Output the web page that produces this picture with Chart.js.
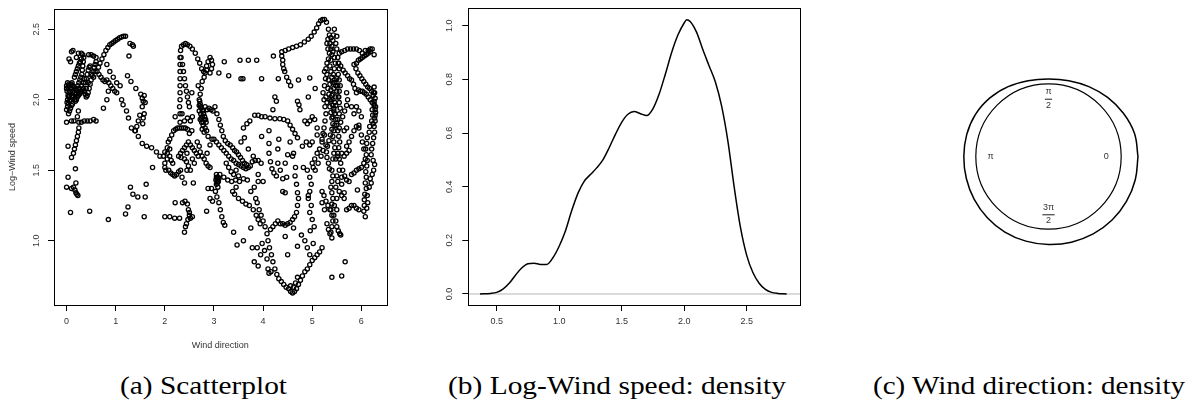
<!DOCTYPE html>
<html>
<head>
<meta charset="utf-8">
<script src="https://cdn.jsdelivr.net/npm/chart.js@4.4.1/dist/chart.umd.min.js"></script>
<style>
  html, body { margin: 0; padding: 0; background: #fff; width: 1191px; height: 402px; overflow: hidden; }
  canvas { position: absolute; }
  .cap { position: absolute; top: 373px; font-family: "Liberation Serif", "DejaVu Serif", serif; font-size: 26px; line-height: 26px; white-space: nowrap; transform-origin: 0 0; color: #000; }
</style>
</head>
<body>
<canvas id="scatter" width="400" height="360" style="left:0px;top:0px"></canvas>
<canvas id="dens" width="420" height="360" style="left:400px;top:0px"></canvas>
<canvas id="circ" width="189" height="189" style="left:954px;top:62px"></canvas>
<div class="cap" data-left="120" data-width="167">(a) Scatterplot</div>
<div class="cap" data-left="448" data-width="338">(b) Log-Wind speed: density</div>
<div class="cap" data-left="873" data-width="312">(c) Wind direction: density</div>
<script>
// (a) wind direction (radians) vs log wind speed
const windObs = [
  [0.00,2.08],[0.00,2.10],[0.01,2.06],[0.02,2.12],[0.03,2.09],[0.05,2.11],[0.07,2.10],[0.09,2.11],[0.11,2.12],[0.13,2.10],
  [0.15,2.09],[0.17,2.08],[0.19,2.07],[0.21,2.08],[0.23,2.10],[0.25,2.12],[0.27,2.14],[0.29,2.16],[0.31,2.18],[0.32,2.21],
  [0.33,2.24],[0.34,2.27],[0.35,2.30],[0.33,2.32],[0.30,2.29],
  [0.00,1.93],[0.02,1.95],[0.04,1.97],[0.06,1.99],[0.08,2.00],[0.10,2.02],[0.12,2.03],[0.14,2.02],[0.16,2.00],[0.18,1.99],
  [0.20,2.00],[0.22,2.02],[0.24,2.03],[0.26,2.04],[0.28,2.05],[0.30,2.06],[0.32,2.07],[0.34,2.08],[0.36,2.06],[0.38,2.04],
  [0.40,2.02],[0.42,2.03],[0.44,2.05],[0.46,2.08],[0.48,2.11],[0.50,2.14],[0.52,2.17],[0.54,2.20],[0.56,2.23],[0.58,2.25],[0.60,2.27],
  [0.03,2.03],[0.05,2.05],[0.07,2.06],[0.09,2.08],[0.04,1.90],[0.06,1.92],[0.08,1.94],[0.10,1.96],[0.12,1.97],
  [0.02,2.00],[0.04,2.02],[0.06,2.03],[0.01,1.98],[0.12,2.06],[0.16,2.05],[0.20,2.04],[0.26,2.08],[0.30,2.10],[0.34,2.12],
  [0.36,2.15],[0.40,2.08],[0.44,2.12],[0.50,2.18],[0.55,2.16],[0.58,2.20],
  [0.20,2.20],[0.22,2.22],[0.24,2.24],[0.26,2.26],[0.28,2.27],[0.18,2.18],[0.16,2.16],
  [0.05,2.29],[0.08,2.27],[0.10,2.34],[0.13,2.35],[0.20,2.30],[0.24,2.33],[0.30,2.33],[0.45,2.32],[0.50,2.32],[0.55,2.31],[0.60,2.30],
  [0.38,2.12],[0.40,2.15],[0.42,2.18],[0.44,2.21],[0.46,2.23],[0.48,2.24],
  [0.60,1.85],[0.55,1.86],[0.48,1.85],[0.42,1.85],[0.36,1.85],[0.30,1.84],[0.25,1.84],[0.15,1.85],[0.10,1.85],[0.00,1.84],
  [0.25,1.80],[0.24,1.77],[0.22,1.74],[0.20,1.71],[0.18,1.68],[0.16,1.65],[0.14,1.62],[0.10,1.59],[0.22,1.88],[0.24,1.92],
  [0.03,1.67],[0.03,1.45],[0.00,1.38],[0.10,1.37],[0.14,1.38],[0.17,1.36],[0.19,1.34],[0.21,1.33],[0.23,1.32],[0.19,1.41],
  [0.18,1.51],[0.08,1.20],[0.47,1.21],[0.85,1.15],
  [0.62,2.20],[0.65,2.23],[0.68,2.26],[0.72,2.29],[0.76,2.32],[0.80,2.35],[0.84,2.37],[0.88,2.39],[0.92,2.40],[0.96,2.41],
  [1.00,2.42],[1.04,2.43],[1.08,2.44],[1.12,2.445],[1.16,2.45],[1.20,2.45],
  [1.29,2.40],[1.34,2.39],[1.36,2.38],[1.27,2.31],
  [0.66,2.18],[0.70,2.16],[0.74,2.14],[0.78,2.13],[0.82,2.14],[0.86,2.12],[0.90,2.10],[0.94,2.08],[0.98,2.06],[1.02,2.05],
  [0.82,2.25],[0.88,2.20],[0.95,2.16],[1.02,2.12],[1.09,2.10],[0.85,2.06],[0.82,2.00],[0.75,1.94],
  [1.12,2.00],[1.15,1.965],[1.22,1.92],[1.26,1.87],[1.32,1.80],[1.40,1.78],[1.46,1.74],[1.54,1.69],[1.63,1.67],[1.73,1.66],
  [1.83,1.63],[1.90,1.60],[1.97,1.60],
  [1.24,2.17],[1.31,2.13],[1.41,2.08],[1.51,2.04],[1.54,2.01],[1.60,1.98],[1.54,1.95],[1.49,1.89],[1.46,1.85],[1.43,1.81],
  [1.39,1.78],[1.58,2.03],[1.56,1.99],[1.58,1.90],[1.56,1.87],[1.55,1.83],
  [1.75,1.52],[1.62,1.40],[1.58,1.17],[1.60,1.31],[1.45,1.31],[1.35,1.33],[1.30,1.38],[1.25,1.24],[1.20,1.19],
  [2.00,1.63],[2.00,1.55],[2.00,1.52],[2.02,1.50],[2.05,1.58],[2.05,1.62],[2.05,1.66],[2.07,1.70],[2.10,1.72],[2.14,1.75],
  [2.18,1.78],[2.22,1.79],[2.26,1.80],[2.30,1.80],[2.34,1.80],[2.38,1.80],[2.42,1.80],[2.46,1.79],
  [2.08,1.50],[2.12,1.48],[2.16,1.47],[2.20,1.46],[2.24,1.47],[2.28,1.49],[2.32,1.50],[2.10,1.60],[2.13,1.57],[2.16,1.55],[2.10,1.65],
  [2.28,1.60],[2.32,1.62],[2.36,1.64],[2.40,1.66],[2.44,1.68],[2.48,1.70],[2.52,1.68],[2.56,1.66],[2.60,1.64],[2.40,1.58],
  [2.44,1.56],[2.48,1.53],[2.52,1.50],[2.56,1.58],[2.60,1.55],[2.64,1.62],[2.68,1.60],[2.72,1.63],[2.76,1.60],[2.80,1.58],
  [2.84,1.55],[2.88,1.53],[2.92,1.52],[2.70,1.67],[2.66,1.70],
  [2.21,1.88],[2.30,1.95],[2.35,1.90],[2.40,1.85],[2.46,1.87],[2.52,1.85],[2.56,1.88],
  [2.31,1.84],[2.31,1.90],[2.31,2.00],[2.31,2.05],[2.31,2.10],[2.31,2.15],[2.31,2.20],[2.31,2.25],[2.31,2.30],[2.32,2.35],
  [2.34,2.38],[2.38,2.39],[2.42,2.40],[2.46,2.39],[2.51,2.38],[2.56,2.36],[2.62,2.33],[2.67,2.29],[2.71,2.26],[2.75,2.22],
  [2.79,2.20],[2.82,2.19],[2.85,2.21],[2.85,2.24],[2.88,2.27],[2.92,2.30],[2.95,2.28],[2.97,2.25],[2.92,2.19],[2.95,2.22],
  [2.33,2.30],[2.36,2.25],[2.38,2.20],[2.40,2.15],[2.42,2.10],[2.44,2.06],[2.46,2.02],[2.48,1.98],[2.50,1.95],[2.55,2.05],
  [2.68,2.10],[2.72,2.04],
  [2.70,2.00],[2.72,1.97],[2.74,1.94],[2.70,1.92],[2.73,1.90],[2.76,1.88],[2.72,1.86],[2.75,1.84],[2.78,1.82],[2.76,1.79],
  [2.80,1.77],[2.82,1.80],[2.84,1.84],[2.78,1.92],[2.82,1.95],[2.86,1.93],[2.90,1.94],[2.94,1.93],[2.98,1.92],[2.74,2.08],
  [2.76,2.13],[2.80,2.16],[2.70,1.96],[2.80,1.86],[2.85,1.78],[2.88,1.74],
  [2.71,1.99],[2.73,1.95],[2.77,1.93],[2.79,1.90],[2.81,1.88],[2.83,1.86],[2.74,1.87],[2.78,1.84],
  [2.40,1.41],[2.58,1.41],[2.36,1.27],[2.41,1.28],[2.46,1.26],[2.48,1.22],[2.50,1.18],[2.47,1.15],[2.44,1.12],[2.42,1.10],
  [2.40,1.06],[2.52,1.16],[2.56,1.17],[2.50,1.20],
  [2.00,1.17],[2.10,1.17],[2.20,1.16],[2.30,1.16],[2.21,1.27],[2.85,1.21],
  [2.33,1.59],[2.35,1.45],[2.45,1.50],[2.55,1.78],[2.50,1.76],[2.45,1.62],
  [2.88,1.37],[2.95,1.37],[2.92,1.30],[2.97,1.28],[2.86,1.62],[2.92,1.68],[2.96,1.72],
  [3.02,1.95],[3.06,1.90],[3.10,1.86],[3.13,1.82],[3.16,1.78],[3.19,1.74],[3.23,1.71],[3.28,1.69],[3.33,1.68],[3.38,1.66],
  [3.42,1.64],[3.46,1.63],[3.50,1.61],[3.54,1.59],[3.58,1.57],[3.62,1.55],[3.66,1.54],[3.70,1.52],[3.74,1.53],[3.78,1.56],
  [3.84,1.57],[3.90,1.57],[3.96,1.55],
  [3.00,1.72],[3.05,1.70],[3.10,1.68],[3.15,1.66],[3.20,1.64],[3.25,1.62],[3.30,1.60],[3.35,1.58],[3.40,1.57],[3.45,1.55],
  [3.50,1.54],[3.55,1.53],[3.60,1.52],[3.65,1.51],
  [3.05,1.45],[3.07,1.42],[3.05,1.40],[3.08,1.38],[3.03,1.35],[3.06,1.31],[3.10,1.27],[3.13,1.22],[3.16,1.17],[3.19,1.13],
  [3.22,1.11],[3.10,1.44],[3.12,1.47],
  [3.04,1.43],[3.06,1.44],[3.08,1.45],[3.05,1.47],[3.07,1.41],[3.09,1.42],
  [3.20,1.45],[3.28,1.43],[3.36,1.42],[3.44,1.43],[3.52,1.42],[3.60,1.44],[3.68,1.43],
  [3.25,1.55],[3.30,1.52],[3.35,1.49],[3.40,1.47],[3.45,1.50],[3.50,1.46],[3.45,1.38],[3.38,1.35],[3.42,1.33],[3.50,1.30],
  [3.58,1.28],[3.65,1.26],[3.72,1.25],[3.80,1.22],[3.86,1.18],[3.90,1.15],[3.94,1.12],
  [3.55,2.15],[3.59,2.15],[3.30,2.17],[3.10,2.19],[3.97,2.15],[4.31,2.15],[3.21,2.27],[3.53,2.28],[3.70,2.28],[3.87,2.28],[4.21,2.31],
  [3.60,1.80],[3.67,1.83],[3.73,1.85],[3.83,1.89],[3.90,1.89],[3.97,1.88],[4.04,1.88],[4.14,1.87],[4.24,1.865],[4.34,1.865],
  [4.42,1.86],[4.50,1.85],[4.55,1.82],[4.60,1.79],[4.65,1.76],[4.70,1.73],
  [3.97,1.74],[4.12,1.78],[4.12,1.69],[4.12,1.62],[4.15,1.56],[4.18,1.51],[4.22,1.48],[4.27,1.46],[4.24,2.02],[4.27,1.99],[4.20,1.93],
  [3.75,1.35],[3.82,1.38],[3.90,1.42],[4.00,1.42],[3.85,1.30],[3.88,1.27],[3.92,1.22],[3.96,1.18],[4.00,1.14],[4.04,1.10],
  [4.08,1.05],[4.10,1.00],[4.13,0.95],[4.17,0.90],[4.20,0.85],[4.24,0.80],[4.28,0.76],[4.32,0.73],[4.37,0.71],[4.42,0.69],
  [4.47,0.67],[4.52,0.66],[4.56,0.64],[4.60,0.63],[4.64,0.64],[4.68,0.66],[4.72,0.69],[4.76,0.72],[4.80,0.75],[4.85,0.78],
  [4.90,0.80],[4.95,0.83],[5.00,0.86],[5.05,0.88],[5.10,0.90],[5.15,0.92],[5.20,0.95],
  [4.62,0.67],[4.66,0.70],[4.70,0.74],[4.56,0.68],
  [3.40,1.06],[3.47,0.97],[3.60,1.00],[3.75,1.09],[3.78,0.95],[3.82,0.85],[3.90,0.82],[3.88,0.95],[3.95,0.90],[3.98,0.98],
  [4.03,0.93],[4.08,0.87],[4.10,0.80],[4.12,0.77],[4.16,0.78],
  [4.15,1.08],[4.20,1.10],[4.25,1.12],[4.30,1.14],[4.35,1.12],[4.40,1.12],[4.45,1.11],[4.50,1.12],[4.55,1.13],[4.60,1.15],
  [4.64,1.17],[4.68,1.20],[4.70,1.25],[4.72,1.30],
  [4.45,1.03],[4.50,0.90],[4.62,1.09],[4.70,0.96],[4.78,1.04],[4.90,0.95],[4.95,0.90],[4.85,1.00],[5.02,0.98],[5.40,0.74],
  [5.60,0.75],[5.67,0.85],
  [3.55,1.70],[3.62,1.73],[3.70,1.65],[3.80,1.60],[3.90,1.47],[4.30,1.55],[4.35,1.50],[4.40,1.44],[4.40,1.35],[4.45,1.55],
  [4.50,1.61],[4.48,1.45],[4.45,1.34],[4.30,1.65],[4.32,1.72],
  [4.38,2.34],[4.38,2.31],[4.40,2.28],[4.40,2.25],[4.42,2.22],[4.44,2.20],[4.48,2.16],[4.52,2.13],[4.56,2.10],
  [4.45,2.35],[4.52,2.36],[4.60,2.37],[4.68,2.38],[4.76,2.39],[4.84,2.41],[4.92,2.43],[4.98,2.45],[5.04,2.48],[5.09,2.51],
  [5.13,2.54],[5.17,2.56],[5.21,2.57],[5.25,2.57],[5.29,2.55],
  [4.72,2.14],[4.95,2.155],[5.06,2.08],[4.92,2.02],[4.73,1.965],[4.75,1.93],[4.70,1.99],
  [4.62,1.62],[4.60,1.60],[4.55,1.70],[4.65,1.46],[4.68,1.40],[4.70,1.34],[4.66,1.52],
  [4.80,1.67],[4.88,1.70],[4.95,1.68],[5.00,1.70],[4.82,1.52],[4.90,1.50],[4.95,1.45],[4.98,1.40],[4.95,1.35],[4.92,1.30],
  [4.98,1.25],[4.95,1.20],[5.00,1.15],[5.04,1.10],[4.96,1.07],[4.92,1.32],
  [4.85,1.85],[4.90,1.83],[4.95,1.85],[5.00,1.88],[5.05,1.86],[5.10,1.80],[5.10,1.75],
  [5.00,1.55],[5.05,1.58],[5.10,1.62],[5.15,1.65],[5.20,1.70],[5.25,1.75],[5.02,1.52],[5.06,1.50],[5.12,1.55],[5.18,1.60],
  [5.22,1.64],[5.28,1.68],
  [5.33,2.50],[5.35,2.46],[5.32,2.43],[5.30,2.40],[5.32,2.36],[5.35,2.33],[5.33,2.29],[5.30,2.26],[5.28,2.22],[5.30,2.18],
  [5.33,2.14],[5.36,2.11],[5.38,2.07],[5.40,2.03],[5.38,1.99],[5.36,1.95],[5.38,1.91],[5.40,1.87],[5.42,1.83],[5.40,1.79],
  [5.37,1.75],[5.34,1.71],[5.31,1.67],[5.29,1.63],[5.30,1.59],[5.33,1.55],[5.35,1.51],
  [5.45,2.50],[5.43,2.46],[5.42,2.42],[5.40,2.38],[5.42,2.34],[5.45,2.30],[5.47,2.26],[5.45,2.22],[5.43,2.18],[5.45,2.14],
  [5.48,2.10],[5.50,2.06],[5.48,2.02],[5.46,1.98],[5.44,1.94],[5.46,1.90],[5.48,1.86],[5.46,1.82],[5.44,1.78],[5.42,1.74],
  [5.44,1.70],[5.46,1.66],[5.44,1.62],[5.42,1.58],
  [5.52,2.30],[5.54,2.26],[5.55,2.22],[5.53,2.18],[5.55,2.14],[5.57,2.10],[5.55,2.06],[5.53,2.02],[5.55,1.98],[5.57,1.94],
  [5.55,1.90],[5.52,1.86],[5.50,1.82],[5.52,1.78],[5.54,1.74],[5.56,1.70],[5.54,1.66],[5.52,1.62],[5.55,1.58],[5.58,1.55],
  [5.32,2.08],[5.34,2.04],[5.36,2.00],[5.46,2.12],[5.50,2.15],[5.52,2.10],[5.54,2.02],[5.48,1.96],[5.30,1.98],[5.28,2.02],
  [5.25,2.20],[5.27,2.15],[5.25,2.10],[5.22,2.05],[5.24,2.00],[5.26,1.95],[5.28,1.90],[5.26,1.85],[5.24,1.80],[5.22,1.76],[5.20,1.72],
  [5.38,2.44],[5.36,2.40],[5.38,2.36],[5.40,2.32],[5.38,2.28],[5.36,2.24],[5.38,2.20],[5.40,2.16],[5.42,2.12],[5.44,2.08],
  [5.42,2.04],[5.40,2.00],[5.42,1.96],[5.44,1.92],[5.42,1.88],
  [5.50,2.45],[5.48,2.40],[5.50,2.36],[5.55,2.33],
  [5.40,1.50],[5.42,1.46],[5.40,1.42],[5.38,1.38],[5.40,1.34],[5.42,1.30],[5.40,1.26],[5.38,1.22],[5.40,1.18],[5.42,1.14],
  [5.40,1.10],[5.38,1.06],[5.40,1.02],
  [5.20,1.35],[5.24,1.32],[5.28,1.28],[5.32,1.25],[5.36,1.22],[5.44,1.18],[5.48,1.14],[5.50,1.10],[5.53,1.07],[5.56,1.05],[5.58,1.04],
  [5.30,1.12],[5.33,1.08],[5.36,1.05],
  [5.20,1.27],[5.25,1.22],[5.45,1.25],[5.50,1.22],[5.50,1.30],[5.55,1.35],[5.60,1.32],[5.48,1.38],[5.52,1.42],[5.50,1.46],[5.55,1.50],
  [5.60,1.40],[5.60,1.45],[5.65,1.30],[5.65,1.34],[5.62,1.50],[5.66,1.46],[5.70,1.43],[5.75,1.42],[5.80,1.47],[5.85,1.48],
  [5.90,1.50],[5.95,1.51],[6.00,1.52],[6.05,1.55],[6.08,1.58],
  [5.48,1.58],[5.52,1.60],[5.60,1.62],[5.65,1.60],[5.70,1.62],[5.75,1.64],
  [5.55,1.80],[5.58,1.84],[5.62,1.88],[5.66,1.92],[5.70,1.96],[5.72,2.00],[5.70,2.05],
  [5.70,1.67],[5.75,1.70],[5.80,1.74],[5.85,1.78],[5.90,1.81],[5.95,1.80],[5.65,1.78],[5.70,1.80],
  [5.60,2.34],[5.66,2.35],[5.72,2.36],[5.78,2.36],[5.84,2.36],[5.90,2.36],[5.96,2.35],[6.02,2.33],[6.08,2.35],[6.14,2.35],
  [6.18,2.36],[6.22,2.36],[6.26,2.32],
  [5.90,2.26],[5.94,2.28],[5.98,2.29],[6.02,2.30],[6.06,2.31],[6.10,2.32],[6.14,2.33],[6.18,2.34],
  [5.53,2.26],[5.58,2.24],[5.63,2.21],[5.67,2.19],[5.72,2.17],[5.76,2.15],[5.80,2.14],[5.84,2.11],[5.87,2.08],[5.90,2.05],
  [5.85,2.25],[5.89,2.22],[5.93,2.19],[5.97,2.17],[6.01,2.15],[6.05,2.13],[6.09,2.11],[6.13,2.09],[6.17,2.08],[6.21,2.06],[6.25,2.05],
  [5.94,2.07],[5.98,2.06],[6.02,2.06],[6.06,2.05],[6.10,2.04],[6.14,2.02],[6.18,2.00],[6.22,1.98],[6.26,1.96],
  [6.26,2.09],[6.27,2.05],[6.28,2.01],[6.26,1.97],[6.22,1.93],[6.23,1.89],[6.21,1.85],[6.17,1.81],[6.16,1.77],[6.12,1.73],
  [6.11,1.69],[6.09,1.65],[6.10,1.61],[6.12,1.57],[6.11,1.53],[6.09,1.49],[6.10,1.45],[6.08,1.41],[6.10,1.37],[6.07,1.33],
  [6.06,1.29],[6.06,1.25],[6.05,1.21],[6.08,1.17],
  [6.24,2.03],[6.26,1.99],[6.29,1.95],[6.29,1.91],[6.27,1.87],[6.24,1.83],
  [6.28,1.93],[6.28,1.89],[6.28,1.85],[6.26,1.81],[6.27,1.77],[6.25,1.73],[6.23,1.69],[6.21,1.65],[6.20,1.61],[6.24,1.57],
  [6.27,1.54],[6.25,1.50],[6.22,1.47],[6.18,1.44],[6.20,1.41],[6.16,1.38],[6.12,1.32],[6.13,1.27],[6.11,1.23],
  [5.95,1.22],[5.90,1.23],[5.85,1.25],[5.80,1.25],[5.75,1.23],[5.70,1.22],[5.92,1.36],[5.95,1.82],[5.90,1.95],[5.95,1.92],
  [6.00,1.88],[5.85,1.90],[5.80,1.95],[6.00,1.75],[6.02,1.70],[6.05,1.65]
];
const scatterXTicks = [0, 1, 2, 3, 4, 5, 6];
const scatterYTicks = [1.0, 1.5, 2.0, 2.5];

// (b) kernel density of log wind speed
const densX = [0.367, 0.45, 0.50, 0.55, 0.60, 0.65, 0.70, 0.75, 0.80, 0.85, 0.90, 0.95, 1.00, 1.05, 1.10, 1.15, 1.20,
  1.25, 1.30, 1.35, 1.40, 1.45, 1.50, 1.55, 1.60, 1.65, 1.70, 1.75, 1.80, 1.85, 1.90, 1.95, 2.00, 2.02, 2.05, 2.10,
  2.15, 2.20, 2.25, 2.30, 2.35, 2.40, 2.45, 2.50, 2.55, 2.60, 2.65, 2.70, 2.75, 2.82];
const densY = [0.000, 0.002, 0.006, 0.018, 0.040, 0.070, 0.097, 0.113, 0.115, 0.110, 0.110, 0.135, 0.178, 0.235, 0.310,
  0.375, 0.420, 0.445, 0.470, 0.500, 0.545, 0.595, 0.640, 0.670, 0.680, 0.672, 0.665, 0.690, 0.745, 0.820, 0.900,
  0.965, 1.010, 1.022, 1.015, 0.975, 0.910, 0.850, 0.790, 0.700, 0.570, 0.400, 0.250, 0.145, 0.080, 0.040, 0.017,
  0.006, 0.002, 0.000];
const densXTicks = [0.5, 1.0, 1.5, 2.0, 2.5];
const densYTicks = [0.0, 0.2, 0.4, 0.6, 0.8, 1.0];

// (c) circular density of wind direction: radius of the outer curve (unit circle = 1)
const dirAngles = [0, 15, 30, 45, 60, 75, 90, 105, 120, 135, 150, 165, 180, 195, 210, 225, 240, 255, 270, 285, 300, 315, 330, 345];
const dirRadius = [1.231, 1.225, 1.190, 1.150, 1.110, 1.080, 1.067, 1.080, 1.110, 1.140, 1.160, 1.165, 1.165, 1.170,
  1.180, 1.190, 1.200, 1.205, 1.210, 1.220, 1.230, 1.237, 1.238, 1.236];
const dirLabels = [
  { angle: 0, text: '0' },
  { angle: 90, num: '\u03c0', den: '2' },
  { angle: 180, text: '\u03c0' },
  { angle: 270, num: '3\u03c0', den: '2' }
];

const SANS = '"Liberation Sans", Arial, Helvetica, sans-serif';
const tickFont = { family: SANS, size: 9 };

// R-style frame: box around the plot, rotated y tick labels, axis titles
const rFrame = {
  id: 'rFrame',
  afterDraw(chart, args, opts) {
    const { ctx, chartArea: a, scales } = chart;
    ctx.save();
    ctx.strokeStyle = '#000';
    ctx.lineWidth = 1;
    ctx.strokeRect(Math.round(a.left) + 0.5, Math.round(a.top) + 0.5, Math.round(a.right - a.left), Math.round(a.bottom - a.top));
    ctx.fillStyle = '#333';
    ctx.font = '9px ' + SANS;
    ctx.textAlign = 'center';
    ctx.textBaseline = 'middle';
    (opts.yTicks || []).forEach(v => {
      ctx.save();
      ctx.translate(opts.yLabelX, scales.y.getPixelForValue(v));
      ctx.rotate(-Math.PI / 2);
      ctx.fillText(v.toFixed(1), 0, 0);
      ctx.restore();
    });
    if (opts.xTitle) ctx.fillText(opts.xTitle, (a.left + a.right) / 2, opts.xTitleY);
    if (opts.yTitle) {
      ctx.translate(opts.yTitleX, (a.top + a.bottom) / 2);
      ctx.rotate(-Math.PI / 2);
      ctx.fillText(opts.yTitle, 0, 0);
    }
    ctx.restore();
  }
};

function axisOpts(min, max, ticks, fit, showLabels, fmt) {
  return {
    type: 'linear', min: min, max: max,
    afterBuildTicks: s => { s.ticks = ticks.map(v => ({ value: v })); },
    afterFit: fit,
    border: { display: false },
    grid: { drawOnChartArea: false, drawTicks: true, tickLength: 6, color: '#000', lineWidth: 1 },
    ticks: { display: showLabels, font: tickFont, color: '#333', padding: 5, maxRotation: 0, minRotation: 0, callback: fmt }
  };
}

new Chart(document.getElementById('scatter'), {
  type: 'scatter',
  data: {
    datasets: [{
      data: windObs.map(p => ({ x: p[0], y: p[1] })),
      pointRadius: 2.1, pointBorderWidth: 1.3, pointBorderColor: '#000', pointBackgroundColor: 'rgba(0,0,0,0)'
    }]
  },
  options: {
    animation: false, responsive: false, devicePixelRatio: 1,
    layout: { padding: { top: 9, right: 13.3, left: 0, bottom: 0 } },
    plugins: {
      legend: { display: false }, tooltip: { enabled: false },
      rFrame: { yTicks: scatterYTicks, yLabelX: 36.5, xTitle: 'Wind direction', xTitleY: 346, yTitle: 'Log\u2212Wind speed', yTitleX: 13 }
    },
    scales: {
      x: axisOpts(-0.256, 6.516, scatterXTicks, s => { s.height = 55; }, true, v => String(v)),
      y: axisOpts(0.544, 2.644, scatterYTicks, s => { s.width = 54; }, false)
    }
  },
  plugins: [rFrame]
});

const densXMin = 0.273, densXMax = 2.927;
new Chart(document.getElementById('dens'), {
  type: 'scatter',
  data: {
    datasets: [
      { data: densX.map((x, i) => ({ x: x, y: densY[i] })), showLine: true, pointRadius: 0, borderColor: '#000', borderWidth: 1.5, cubicInterpolationMode: 'monotone' },
      { data: [{ x: densXMin, y: 0 }, { x: densXMax, y: 0 }], showLine: true, pointRadius: 0, borderColor: '#b5b5b5', borderWidth: 1 }
    ]
  },
  options: {
    animation: false, responsive: false, devicePixelRatio: 1,
    layout: { padding: { top: 7.7, right: 20, left: 0, bottom: 0 } },
    plugins: { legend: { display: false }, tooltip: { enabled: false }, rFrame: { yTicks: densYTicks, yLabelX: 50 } },
    scales: {
      x: axisOpts(densXMin, densXMax, densXTicks, s => { s.height = 55; }, true, v => v.toFixed(1)),
      y: axisOpts(-0.041, 1.067, densYTicks, s => { s.width = 68.3; }, false)
    }
  },
  plugins: [rFrame]
});

// unit circle and angle labels for the circular plot
const circleFrame = {
  id: 'circleFrame',
  afterDatasetsDraw(chart) {
    const { ctx, scales: { x, y } } = chart;
    const cx = x.getPixelForValue(0), cy = y.getPixelForValue(0);
    const r = x.getPixelForValue(1) - cx;
    ctx.save();
    ctx.strokeStyle = '#000';
    ctx.lineWidth = 1.2;
    ctx.beginPath();
    ctx.arc(cx, cy, r, 0, 2 * Math.PI);
    ctx.stroke();
    ctx.fillStyle = '#333';
    ctx.font = '9px ' + SANS;
    ctx.textAlign = 'center';
    ctx.textBaseline = 'middle';
    const lr = 0.795;
    dirLabels.forEach(l => {
      const t = l.angle * Math.PI / 180;
      const px = x.getPixelForValue(lr * Math.cos(t)), py = y.getPixelForValue(lr * Math.sin(t));
      if (l.text) {
        ctx.fillText(l.text, px, py);
      } else {
        const w = ctx.measureText(l.num).width + 1;
        ctx.fillText(l.num, px, py - 7);
        ctx.fillText(l.den, px, py + 6.5);
        ctx.lineWidth = 0.9;
        ctx.beginPath();
        ctx.moveTo(px - w / 2, py + 0.5);
        ctx.lineTo(px + w / 2, py + 0.5);
        ctx.stroke();
      }
    });
    ctx.restore();
  }
};

const outer = dirAngles.map((a, i) => ({ x: dirRadius[i] * Math.cos(a * Math.PI / 180), y: dirRadius[i] * Math.sin(a * Math.PI / 180) }));
outer.push(outer[0]);
new Chart(document.getElementById('circ'), {
  type: 'scatter',
  data: { datasets: [{ data: outer, showLine: true, pointRadius: 0, borderColor: '#000', borderWidth: 1.5, tension: 0.4 }] },
  options: {
    animation: false, responsive: false, devicePixelRatio: 1,
    layout: { padding: 0 },
    plugins: { legend: { display: false }, tooltip: { enabled: false } },
    scales: {
      x: { type: 'linear', min: -1.3, max: 1.3, display: false },
      y: { type: 'linear', min: -1.3, max: 1.3, display: false }
    }
  },
  plugins: [circleFrame]
});

// captions: fit each to the width it has under its panel
document.querySelectorAll('.cap').forEach(el => {
  const w = el.getBoundingClientRect().width;
  el.style.left = el.dataset.left + 'px';
  el.style.transform = 'scaleX(' + (Number(el.dataset.width) / w) + ')';
});
</script>
</body>
</html>
